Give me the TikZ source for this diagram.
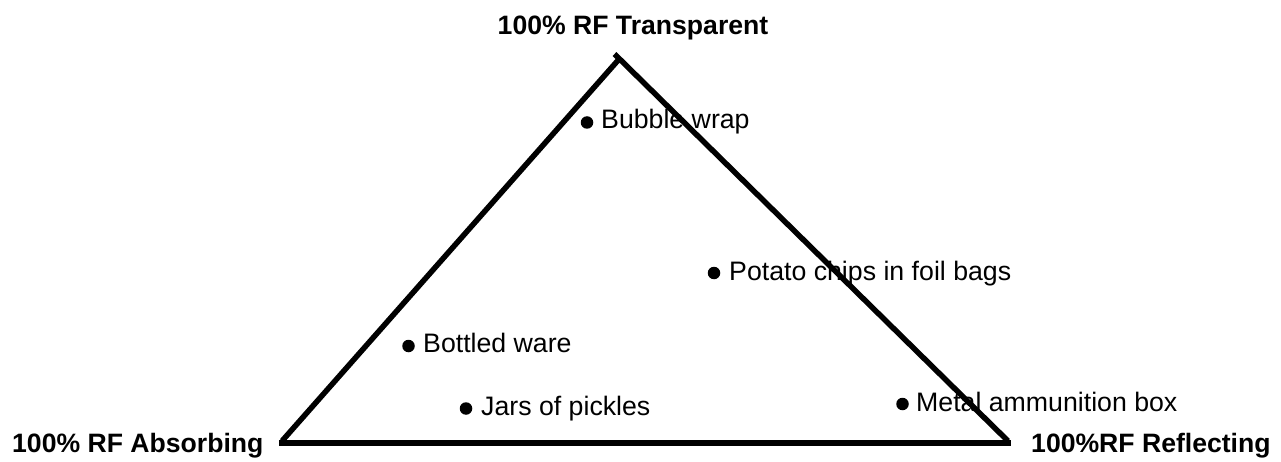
\documentclass[tikz,border=0pt]{standalone}
\usepackage{fontspec}
\setmainfont{Liberation Sans}
\begin{document}
\begin{tikzpicture}[x=1pt,y=-1pt,
  edge/.style={line width=5.5pt},
  item/.style={anchor=base west,inner sep=0pt,font=\fontsize{26.7}{30}\selectfont},
  corner/.style={anchor=base,inner sep=0pt,font=\fontsize{26.6}{30}\selectfont\bfseries},
  dot/.style={circle,fill=black,inner sep=0pt,minimum size=12.5pt}]
\useasboundingbox (0,0) rectangle (1281,462);
% triangle vertices
\coordinate (tl) at (620.5,57.5);
\coordinate (tr) at (614.5,54);
\coordinate (bl) at (282,441);
\coordinate (br) at (1008,441);
\coordinate (hl) at (279,443);
\coordinate (hr) at (1010.5,443);
\draw[edge] (bl) -- (tl);
\draw[edge] (tr) -- (br);
\draw[edge] (hl) -- (hr);
% corner labels
\node[corner] (top) at (633,35) {100\% RF Transparent};
\node[corner,anchor=base west] (left) at (12,452) {100\% RF Absorbing};
\node[corner,anchor=base west] (right) at (1031,452) {100\%RF Reflecting};
% items
\node[dot] (d1) at (587,122.5) {};
\node[item] (t1) at (601,129) {Bubble wrap};
\node[dot] (d2) at (714,273) {};
\node[item] (t2) at (729,280) {Potato chips in foil bags};
\node[dot] (d3) at (408.5,346) {};
\node[item] (t3) at (423,352.5) {Bottled ware};
\node[dot] (d4) at (466,408.5) {};
\node[item] (t4) at (481,415) {Jars of pickles};
\node[dot] (d5) at (902.5,404) {};
\node[item] (t5) at (916,411) {Metal ammunition box};
\end{tikzpicture}
\end{document}
